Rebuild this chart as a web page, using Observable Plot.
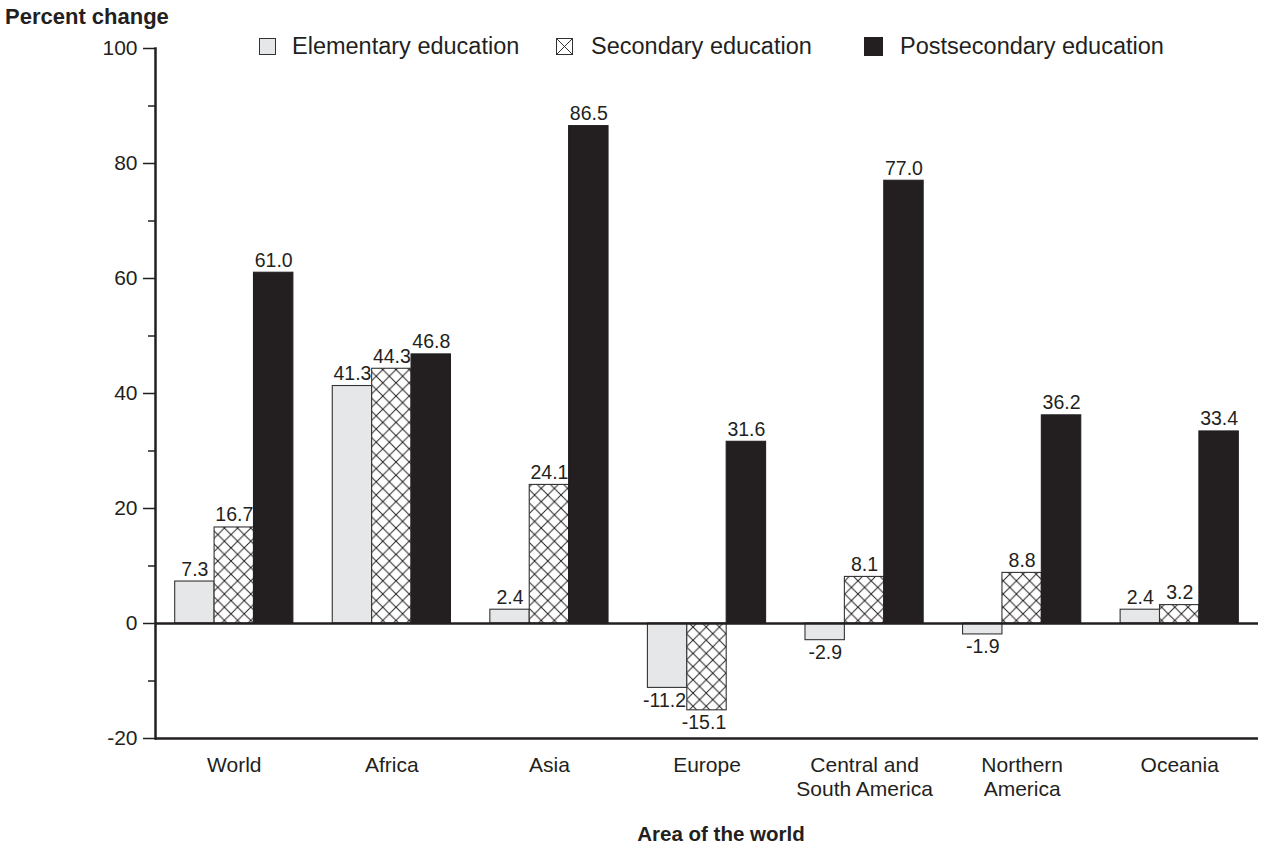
<!DOCTYPE html>
<html>
<head>
<meta charset="utf-8">
<script src="https://cdn.jsdelivr.net/npm/d3@7"></script>
<script src="https://cdn.jsdelivr.net/npm/@observablehq/plot@0.6"></script>
<style>
  body { margin: 0; background: #fff; font-family: "Liberation Sans", Arial, sans-serif; color: #231f20; }
  #wrap { position: relative; width: 1265px; height: 851px; overflow: hidden; }
  #title { position: absolute; left: 5px; top: 4px; font-weight: bold; font-size: 22px; line-height: 1.15; }
  .sw { position: absolute; box-sizing: border-box; }
  .lt { position: absolute; top: 35px; font-size: 23.5px; line-height: 1; white-space: nowrap; }
  #chart { position: absolute; left: 0; top: 0; }
</style>
</head>
<body>
<div id="wrap">
  <div id="chart"></div>
  <div id="title">Percent change</div>
  <div id="legend"></div>
</div>
<script>
// ---- data ----
const regions = ["World", "Africa", "Asia", "Europe", "Central and\nSouth America", "Northern\nAmerica", "Oceania"];
const seriesNames = ["Elementary education", "Secondary education", "Postsecondary education"];
const elementary = [7.3, 41.3, 2.4, -11.2, -2.9, -1.9, 2.4];
const secondary = [16.7, 44.3, 24.1, -15.1, 8.1, 8.8, 3.2];
const postsecondary = [61.0, 46.8, 86.5, 31.6, 77.0, 36.2, 33.4];
const yTicks = [-20, 0, 20, 40, 60, 80, 100];
const yMinorTicks = [-10, 10, 30, 50, 70, 90];
const xTitle = "Area of the world";

const seriesValues = [elementary, secondary, postsecondary];
const fills = ["#e6e7e8", "url(#xhatch)", "#231f20"];
const strokes = ["#333333", "#333333", "#231f20"];

// build table and x slots (bars of a group plus a one-slot gap between groups)
const data = [];
const slots = [];
regions.forEach((r, i) => {
  if (i > 0) slots.push("gap" + i);
  seriesNames.forEach((s, j) => {
    const key = r + "|" + j;
    slots.push(key);
    data.push({region: r, series: s, j, key, value: seriesValues[j][i]});
  });
});

const barMarks = seriesNames.map((s, j) =>
  Plot.barY(data.filter(d => d.j === j), {
    x: "key", y: "value", fill: fills[j], stroke: strokes[j], strokeWidth: 1.1
  })
);

const chart = Plot.plot({
  width: 1265,
  height: 851,
  marginLeft: 155,
  marginRight: 7,
  marginTop: 48,
  marginBottom: 113,
  style: {fontFamily: "'Liberation Sans', Arial, sans-serif", fontSize: "21px", color: "#231f20", background: "#fff"},
  x: {domain: slots, padding: 0, paddingInner: 0, paddingOuter: 0.5, round: false, axis: null},
  y: {domain: [-20, 100], label: null},
  marks: [
    ...barMarks,
    Plot.ruleY([0], {stroke: "#231f20", strokeWidth: 2.5}),
    Plot.ruleY([-20], {stroke: "#231f20", strokeWidth: 2.5}),
    Plot.frame({anchor: "left", stroke: "#231f20", strokeWidth: 2.5}),
    Plot.axisY({ticks: yTicks, tickSize: 12, tickPadding: 6, tickFormat: d => String(d), label: null, fontSize: 21, strokeWidth: 1.5}),
    Plot.axisY({ticks: yMinorTicks, tickSize: 7, tickFormat: () => "", label: null, strokeWidth: 1.5}),
    Plot.text(data.filter(d => d.value >= 0), {
      x: "key", y: "value", text: d => d.value.toFixed(1),
      lineAnchor: "bottom", dy: -6, fontSize: 19.5, fill: "#231f20"
    }),
    Plot.text(data.filter(d => d.value < 0 && d.region !== "Europe"), {
      x: "key", y: "value", text: d => d.value.toFixed(1),
      lineAnchor: "top", dy: 5, fontSize: 19.5, fill: "#231f20"
    }),
    Plot.text(data.filter(d => d.value < 0 && d.region === "Europe"), {
      x: "key", y: "value", text: d => d.value.toFixed(1),
      lineAnchor: "top", dy: 5, dx: -3, fontSize: 19.5, fill: "#231f20"
    }),
    Plot.text(data.filter(d => d.j === 1), {
      x: "key", text: "region", frameAnchor: "bottom",
      lineAnchor: "top", dy: 16, fontSize: 21, lineHeight: 1.15, fill: "#231f20"
    }),
    Plot.text([xTitle], {
      text: d => d, frameAnchor: "bottom", dy: 102, dx: 14,
      fontWeight: "bold", fontSize: 20.5, fill: "#231f20"
    })
  ]
});

// hatch pattern for secondary education
const svgSel = d3.select(chart);
const defs = svgSel.insert("defs", ":first-child");
const P = 13.2;
const pat = defs.append("pattern").attr("id", "xhatch")
  .attr("patternUnits", "userSpaceOnUse").attr("width", P).attr("height", P);
pat.append("rect").attr("width", P).attr("height", P).attr("fill", "#fff");
pat.append("path").attr("d", `M0,0L${P},${P}M${P},0L0,${P}`)
  .attr("stroke", "#231f20").attr("stroke-width", 1).attr("fill", "none");

document.getElementById("chart").appendChild(chart);

// legend
const legend = document.getElementById("legend");
const legendItems = [
  {left: 259, textLeft: 292, size: 17},
  {left: 556, textLeft: 591, size: 17},
  {left: 864, textLeft: 900, size: 19}
];
seriesNames.forEach((s, j) => {
  const it = legendItems[j];
  const sw = document.createElementNS("http://www.w3.org/2000/svg", "svg");
  sw.setAttribute("width", it.size);
  sw.setAttribute("height", it.size);
  sw.setAttribute("class", "sw");
  sw.style.left = it.left + "px";
  sw.style.top = (46 - it.size / 2) + "px";
  const n = it.size;
  let inner = "";
  if (j === 1) {
    inner = `<rect x="0.5" y="0.5" width="${n-1}" height="${n-1}" fill="#fff" stroke="#333" stroke-width="1"/>` +
            `<path d="M0.5,0.5L${n-0.5},${n-0.5}M${n-0.5},0.5L0.5,${n-0.5}" stroke="#333" stroke-width="1"/>`;
  } else {
    inner = `<rect x="0.5" y="0.5" width="${n-1}" height="${n-1}" fill="${fills[j]}" stroke="${strokes[j]}" stroke-width="1"/>`;
  }
  sw.innerHTML = inner;
  legend.appendChild(sw);
  const t = document.createElement("div");
  t.className = "lt";
  t.style.left = it.textLeft + "px";
  t.textContent = s;
  legend.appendChild(t);
});
</script>
</body>
</html>
